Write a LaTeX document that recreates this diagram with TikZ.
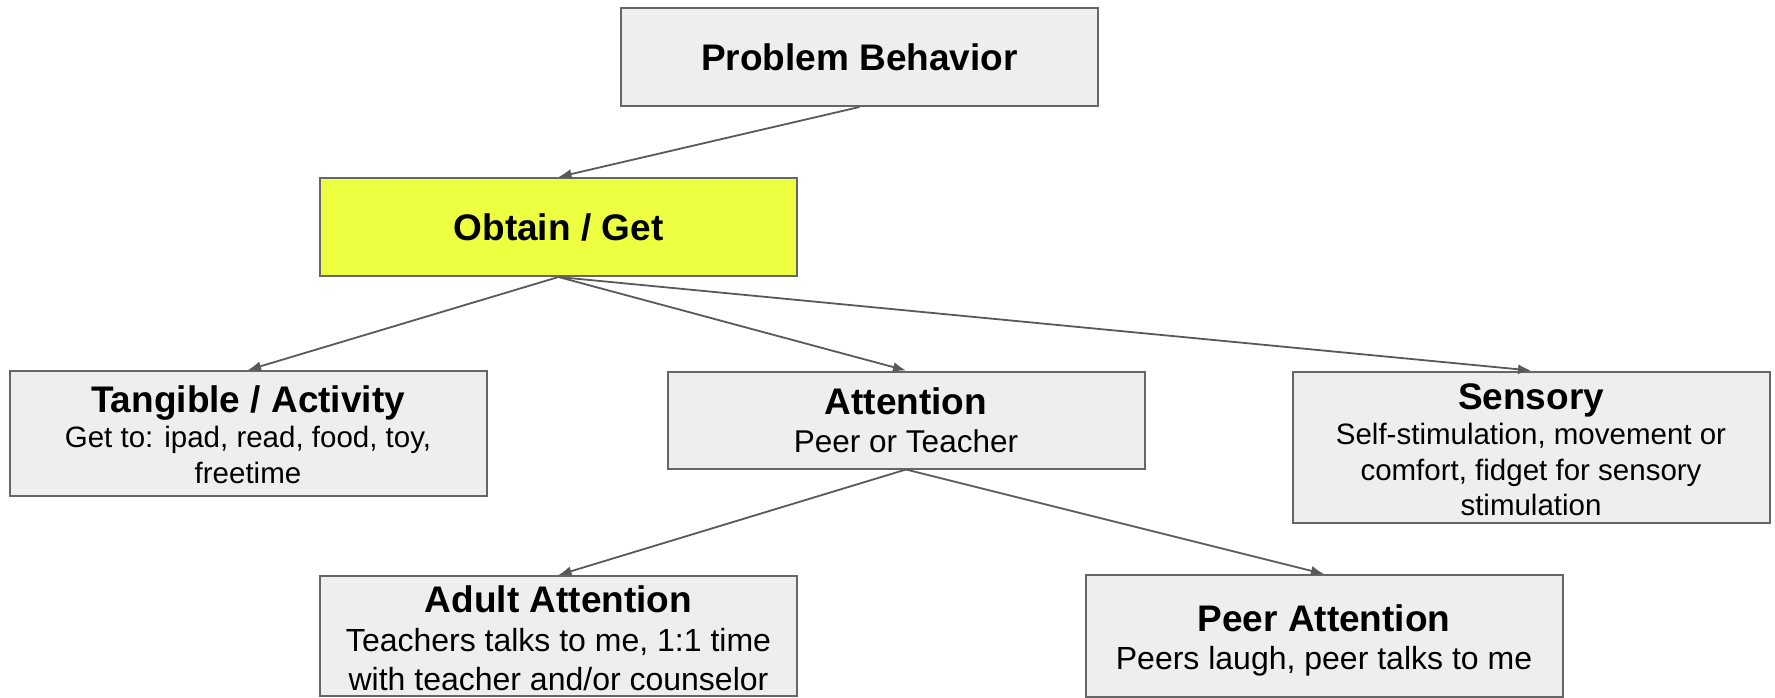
\documentclass[tikz,border=0pt]{standalone}
\usepackage{fontspec}
\setmainfont{Liberation Sans}
\usetikzlibrary{arrows.meta}
\definecolor{boxfill}{HTML}{EEEEEE}
\definecolor{boxline}{HTML}{666666}
\definecolor{hilite}{HTML}{EEFF41}
\definecolor{linkgray}{HTML}{595959}
% body text sizes: small, medium, large
\newcommand\subsmall{\fontsize{29.5}{35.5}\selectfont}
\newcommand\submid{\fontsize{31.5}{37.5}\selectfont}
\newcommand\sublarge{\fontsize{32}{39.5}\selectfont}
\newcommand\boxtitle[1]{{\fontsize{37}{38}\selectfont\bfseries #1}}
% invisible strut that lowers a text block inside its box
\newcommand\lift[1]{\rule{0pt}{#1}}
\begin{document}
\begin{tikzpicture}[x=1pt,y=-1pt,
  box/.style={draw=boxline, fill=boxfill, line width=2pt, rectangle, inner sep=0pt,
    minimum width=477pt, align=center, font=\subsmall, text=black},
  link/.style={draw=linkgray, line width=1.8pt, -{Latex[length=13pt,width=10pt]}}]
\useasboundingbox (0,0) rectangle (1775,698);

% boxes
\node[box, minimum height=98pt] (pb) at (859.5,57) {\boxtitle{Problem Behavior}};
\node[box, fill=hilite, minimum height=98pt] (ob) at (558.5,227) {\boxtitle{Obtain / Get}};
\node[box, minimum height=125pt] (tg) at (248,433.5)
  {\lift{29pt}\boxtitle{Tangible / Activity}\\ Get to: ipad, read, food, toy,\\ freetime};
\node[box, font=\submid, minimum height=97pt] (at) at (906,420)
  {\boxtitle{Attention}\\ Peer or Teacher};
\node[box, minimum height=151pt] (se) at (1531,447)
  {\lift{31.5pt}\boxtitle{Sensory}\\ Self-stimulation, movement or\\ comfort, fidget for sensory\\ stimulation};
\node[box, font=\sublarge, minimum height=120pt] (ad) at (558.5,636)
  {\lift{32pt}\boxtitle{Adult Attention}\\[-1pt] Teachers talks to me, 1:1 time\\ with teacher and/or counselor};
\node[box, font=\sublarge, minimum height=122pt] (pe) at (1324,636)
  {\lift{36pt}\boxtitle{Peer Attention}\\[-1pt] Peers laugh, peer talks to me};

% connectors
\draw[link] (pb.south) -- (ob.north);
\draw[link] (ob.south) -- (tg.north);
\draw[link] (ob.south) -- (at.north);
\draw[link] (ob.south) -- (se.north);
\draw[link] (at.south) -- (ad.north);
\draw[link] (at.south) -- (pe.north);
\end{tikzpicture}
\end{document}
